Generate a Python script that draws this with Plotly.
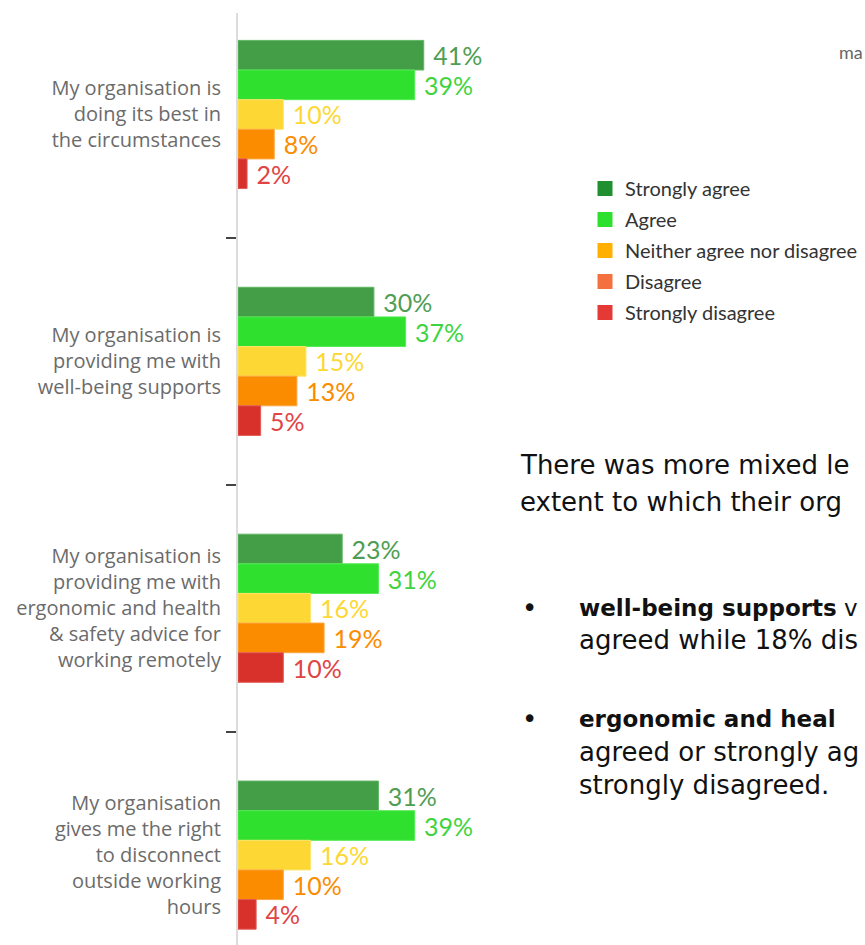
import plotly.graph_objects as go

# Survey statements (y categories) and response shares (%)
statements = [
    "My organisation is<br>doing its best in<br>the circumstances",
    "My organisation is<br>providing me with<br>well-being supports",
    "My organisation is<br>providing me with<br>ergonomic and health<br>& safety advice for<br>working remotely",
    "My organisation<br>gives me the right<br>to disconnect<br>outside working<br>hours",
]
responses = ["Strongly agree", "Agree", "Neither agree nor disagree", "Disagree", "Strongly disagree"]

strongly_agree = [41, 30, 23, 31]
agree = [39, 37, 31, 39]
neither = [10, 15, 16, 16]
disagree = [8, 13, 19, 10]
strongly_disagree = [2, 5, 10, 4]

series = [strongly_agree, agree, neither, disagree, strongly_disagree]

bar_colors = ["#449e48", "#2fe02f", "#fdd835", "#fb8c00", "#d8302b"]
bar_edges = ["#5fb663", "#55ea55", "#fde46a", "#fca640", "#e25a55"]
label_colors = ["#4f9e53", "#3fd43f", "#fdd835", "#fb8c00", "#e04444"]
legend_colors = ["#1f8f2f", "#2ee02e", "#ffb000", "#f4713f", "#e53935"]

W, H = 865, 945
ML, MR, MT, MB = 238, 0, 13, 0


def px_x(x):
    return (x - ML) / (W - ML - MR)


def px_y(y):
    return 1 - (y - MT) / (H - MT - MB)


fig = go.Figure()

for name, vals, col, edge, lcol in zip(responses, series, bar_colors, bar_edges, label_colors):
    fig.add_trace(go.Bar(
        y=statements, x=vals, orientation="h", name=name,
        marker=dict(color=col, line=dict(color=edge, width=1)),
        text=vals, texttemplate=" %{x}%", textposition="outside",
        textfont=dict(family="Lato", size=25, color=lcol),
        constraintext="none", cliponaxis=False, showlegend=False,
        hoverinfo="skip",
    ))

# Legend entries as square markers
for name, col in zip(responses, legend_colors):
    fig.add_trace(go.Scatter(
        x=[None], y=[None], mode="markers", name=name, legendgroup=name,
        marker=dict(symbol="square", size=15, color=col),
    ))

body_font = dict(family="DejaVu Sans", size=26, color="#111111")
bold_font = dict(family="DejaVu Sans", size=23, color="#111111")
notes = [
    (518, 465, "There was more mixed le", body_font),
    (518, 502, "extent to which their org", body_font),
    (520, 608, "•", body_font),
    (577, 608, "<b>well-being supports</b> v", bold_font),
    (577, 640, "agreed while 18% dis", body_font),
    (520, 719, "•", body_font),
    (577, 719, "<b>ergonomic and heal</b>", bold_font),
    (577, 752, "agreed or strongly ag", body_font),
    (577, 785, "strongly disagreed.", body_font),
]
annotations = [
    dict(x=px_x(x), y=px_y(y), xref="paper", yref="paper", text=t,
         xanchor="left", yanchor="middle", showarrow=False, font=f)
    for x, y, t, f in notes
]
annotations.append(dict(
    x=px_x(837), y=px_y(52), xref="paper", yref="paper", text="ma",
    xanchor="left", yanchor="middle", showarrow=False,
    font=dict(family="Lato", size=18, color="#666666"),
))

fig.update_layout(
    width=W, height=H,
    margin=dict(l=ML, r=MR, t=MT, b=MB, pad=0),
    paper_bgcolor="white", plot_bgcolor="white",
    barmode="group", bargap=0.4, bargroupgap=0,
    xaxis=dict(range=[0, 138.4], visible=False),
    yaxis=dict(
        type="category", categoryorder="array", categoryarray=statements,
        range=[3.364, -0.411],
        showline=True, linecolor="#dcdcdc", linewidth=2,
        ticks="outside", tickson="boundaries", ticklen=10, tickwidth=2,
        tickcolor="#444444", showgrid=False, zeroline=False,
        tickfont=dict(family="Open Sans", size=20, color="#6b6b6b"),
        ticklabelstandoff=11,
    ),
    legend=dict(
        x=px_x(585), y=px_y(169), xanchor="left", yanchor="top",
        font=dict(family="Lato", size=20, color="#333333"),
        traceorder="grouped", tracegroupgap=2, itemwidth=30,
        bgcolor="rgba(0,0,0,0)",
    ),
    annotations=annotations,
    showlegend=True,
)

fig.write_html("out.html")
